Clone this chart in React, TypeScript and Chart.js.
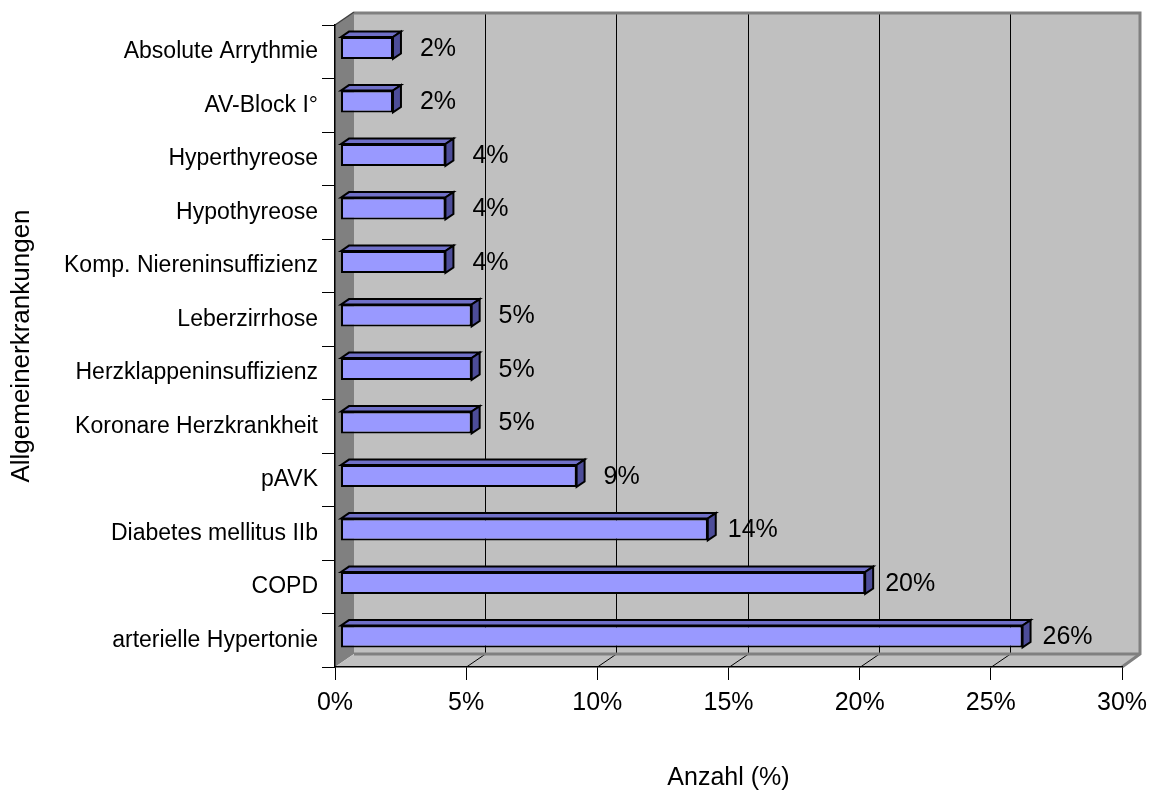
import React, { useEffect, useRef } from 'react';
import { Chart, registerables } from 'chart.js';

Chart.register(...registerables);

const categories = [
  'Absolute Arrythmie',
  'AV-Block I°',
  'Hyperthyreose',
  'Hypothyreose',
  'Komp. Niereninsuffizienz',
  'Leberzirrhose',
  'Herzklappeninsuffizienz',
  'Koronare Herzkrankheit',
  'pAVK',
  'Diabetes mellitus IIb',
  'COPD',
  'arterielle Hypertonie',
];
const values = [2, 2, 4, 4, 4, 5, 5, 5, 9, 14, 20, 26];
const xMin = 0;
const xMax = 30;
const xStep = 5;
const xTitle = 'Anzahl (%)';
const yTitle = 'Allgemeinerkrankungen';

const FONT = '"Liberation Sans", Arial, Helvetica, sans-serif';
const DX = 19;
const DY = -13;
const BAR_FRONT = 0.29;
const BAR_DEPTH = 0.42;

const poly = (ctx: CanvasRenderingContext2D, pts: number[][]) => {
  ctx.beginPath();
  ctx.moveTo(pts[0][0], pts[0][1]);
  for (let i = 1; i < pts.length; i++) ctx.lineTo(pts[i][0], pts[i][1]);
  ctx.closePath();
};

const walls3d = {
  id: 'walls3d',
  beforeDraw(chart: any) {
    const { ctx, chartArea } = chart;
    const { left, top, right, bottom } = chartArea;
    const xs = chart.scales.x;
    ctx.save();
    // back wall
    ctx.fillStyle = '#c0c0c0';
    ctx.fillRect(left + DX, top + DY, right - left, bottom - top);
    // left wall
    ctx.fillStyle = '#808080';
    poly(ctx, [[left, top], [left + DX, top + DY], [left + DX, bottom + DY], [left, bottom]]);
    ctx.fill();
    // floor
    ctx.fillStyle = '#c0c0c0';
    poly(ctx, [[left, bottom], [left + DX, bottom + DY], [right + DX, bottom + DY], [right, bottom]]);
    ctx.fill();
    // gridlines on back wall + floor diagonals
    ctx.strokeStyle = '#000000';
    ctx.lineWidth = 1;
    for (let v = xMin + xStep; v < xMax; v += xStep) {
      const px = Math.round(xs.getPixelForValue(v));
      ctx.beginPath();
      ctx.moveTo(px + DX + 0.5, top + DY);
      ctx.lineTo(px + DX + 0.5, bottom + DY);
      ctx.stroke();
      ctx.beginPath();
      ctx.moveTo(px + 0.5, bottom);
      ctx.lineTo(px + DX + 0.5, bottom + DY);
      ctx.stroke();
    }
    // wall borders
    ctx.strokeStyle = '#808080';
    ctx.lineWidth = 3;
    ctx.beginPath();
    ctx.moveTo(left + DX, top + DY + 1);
    ctx.lineTo(right + DX - 1, top + DY + 1);
    ctx.lineTo(right + DX - 1, bottom + DY);
    ctx.lineTo(right, bottom);
    ctx.stroke();
    ctx.beginPath();
    ctx.moveTo(left + DX, bottom + DY);
    ctx.lineTo(right + DX - 1, bottom + DY);
    ctx.stroke();
    // left wall top edge
    ctx.strokeStyle = '#404040';
    ctx.lineWidth = 1.5;
    ctx.beginPath();
    ctx.moveTo(left, top);
    ctx.lineTo(left + DX, top + DY);
    ctx.stroke();
    ctx.restore();
  },
  beforeDatasetsDraw(chart: any) {
    const { ctx } = chart;
    const meta = chart.getDatasetMeta(0);
    const fx = DX * BAR_FRONT;
    const fy = DY * BAR_FRONT;
    const bx = DX * BAR_DEPTH;
    const by = DY * BAR_DEPTH;
    ctx.save();
    ctx.lineWidth = 2;
    ctx.strokeStyle = '#000000';
    ctx.lineJoin = 'miter';
    meta.data.forEach((bar: any) => {
      const { x, y, base, height } = bar.getProps(['x', 'y', 'base', 'height'], true);
      const l = base + fx;
      const r = x + fx;
      const t = y - height / 2 + fy;
      const b = y + height / 2 + fy;
      ctx.fillStyle = '#7070c8';
      poly(ctx, [[l, t], [l + bx, t + by], [r + bx, t + by], [r, t]]);
      ctx.fill();
      ctx.stroke();
      ctx.fillStyle = '#4d4d99';
      poly(ctx, [[r, t], [r + bx, t + by], [r + bx, b + by], [r, b]]);
      ctx.fill();
      ctx.stroke();
    });
    ctx.restore();
    ctx.save();
    ctx.translate(fx, fy);
  },
  afterDatasetsDraw(chart: any) {
    const { ctx } = chart;
    ctx.restore();
    const meta = chart.getDatasetMeta(0);
    const fx = DX * BAR_FRONT;
    const fy = DY * BAR_FRONT;
    ctx.save();
    ctx.fillStyle = '#000000';
    ctx.font = `25px ${FONT}`;
    ctx.textAlign = 'center';
    ctx.textBaseline = 'middle';
    meta.data.forEach((bar: any, i: number) => {
      const { x, y } = bar.getProps(['x', 'y'], true);
      ctx.fillText(`${values[i]}%`, x + fx + 45, y + fy + 1);
    });
    ctx.restore();
  },
};

export default function App() {
  const ref = useRef<HTMLCanvasElement | null>(null);
  useEffect(() => {
    if (!ref.current) return;
    Chart.defaults.font.family = FONT;
    Chart.defaults.color = '#000000';
    const chart = new Chart(ref.current, {
      type: 'bar',
      data: {
        labels: categories,
        datasets: [
          {
            data: values,
            backgroundColor: '#9999ff',
            borderColor: '#000000',
            borderWidth: 2,
            borderSkipped: false,
            barPercentage: 0.41,
            categoryPercentage: 1,
          },
        ],
      },
      options: {
        indexAxis: 'y',
        responsive: false,
        animation: false,
        devicePixelRatio: 1,
        layout: { padding: { top: 25, right: 35, left: 0, bottom: 0 } },
        plugins: { legend: { display: false }, tooltip: { enabled: false } },
        scales: {
          x: {
            type: 'linear',
            min: xMin,
            max: xMax,
            ticks: {
              stepSize: xStep,
              callback: (v: any) => `${v}%`,
              font: { size: 25 },
              padding: 8,
              color: '#000000',
            },
            grid: { drawOnChartArea: false, drawTicks: true, tickLength: 13, color: '#000000' },
            border: { display: true, color: '#000000', width: 1.5 },
            title: { display: true, text: xTitle, font: { size: 25 }, padding: { top: 0, bottom: 1 }, color: '#000000' },
            afterFit: (s: any) => {
              s.height = 127;
            },
          },
          y: {
            type: 'category',
            ticks: { font: { size: 23 }, padding: 4, color: '#000000', autoSkip: false },
            grid: { drawOnChartArea: false, drawTicks: true, tickLength: 13, color: '#000000', offset: true },
            border: { display: true, color: '#000000', width: 1.5 },
            title: { display: true, text: yTitle, font: { size: 26 }, padding: { top: 6, bottom: 0 }, color: '#000000' },
            afterFit: (s: any) => {
              s.width = 335;
            },
          },
        },
      },
      plugins: [walls3d],
    });
    return () => chart.destroy();
  }, []);
  return (
    <div style={{ position: 'absolute', left: 0, top: 0, width: 1157, height: 794, background: '#ffffff' }}>
      <canvas ref={ref} width={1157} height={794} style={{ display: 'block' }} />
    </div>
  );
}
